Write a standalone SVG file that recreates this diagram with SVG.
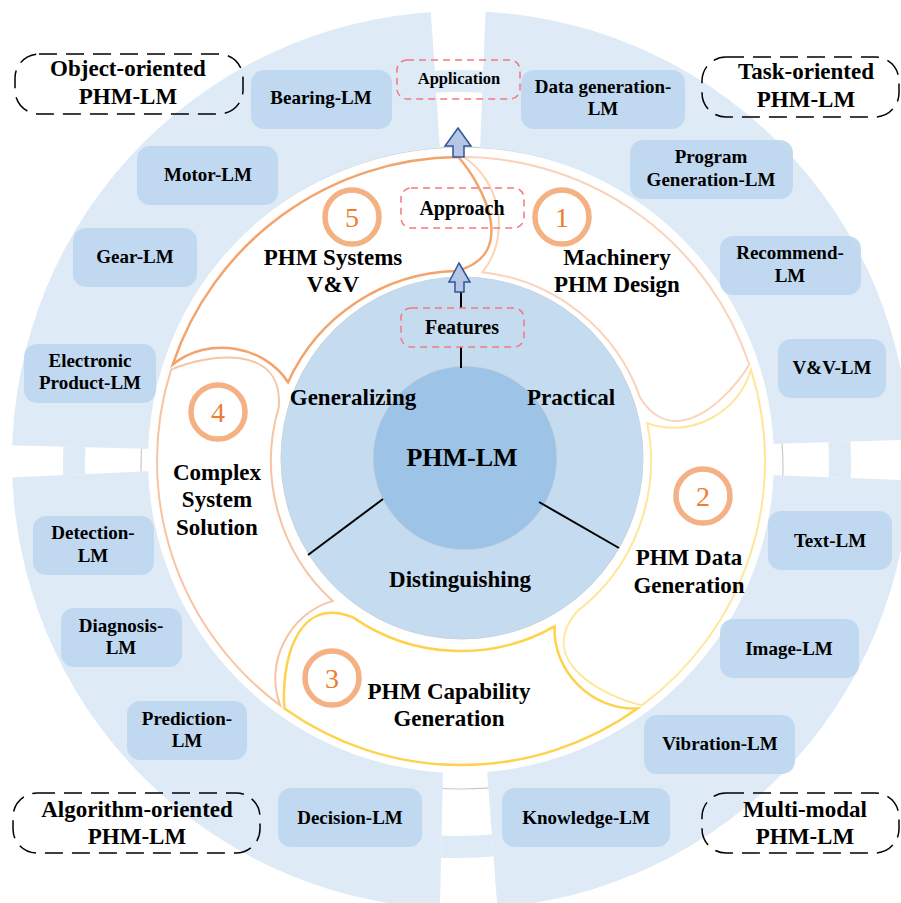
<svg xmlns="http://www.w3.org/2000/svg" width="901" height="903" viewBox="0 0 901 903">
<defs>
<style>
.t{font-family:"Liberation Serif","Times New Roman",serif;font-weight:bold;fill:#000;text-anchor:middle}
.lm{font-size:19px}
.big{font-size:23px}
.mid{font-size:20px}
.node rect{fill:#BDD7EE;fill-opacity:0.9}
.dash{fill:none;stroke:#000;stroke-width:1.5;stroke-dasharray:18 9}
.red{fill:none;stroke:#F4777F;stroke-width:1.5;stroke-dasharray:7 5}
.num{fill:#fff;stroke:#F4B183;stroke-width:5.5}
.numt{font-family:"Liberation Serif","Times New Roman",serif;font-size:28px;fill:#ED7D31;text-anchor:middle}
.seg{fill:none;stroke-linejoin:miter}
.barrow{fill:#B4C7E7;stroke:#2F5597;stroke-width:1.5}
.ln{stroke:#000;stroke-width:2}
</style>
<path id="segshape" class="seg" d="M2.65,-304 A304,304 0 0 1 288.29,-96.46 C268.72,-63.55 213.45,-8.15 179.13,-63.42 A190,190 0 0 0 21.5,-188.8 C49.5,-223.8 40.7,-279 2.65,-304 Z"/>
<mask id="gapmask">
<rect x="0" y="0" width="901" height="903" fill="#fff"/>
<polygon points="430,0 486,0 480,150 440,150" fill="#000"/>
<polygon points="443,770 487,770 497,903 440,903" fill="#000"/>
<polygon points="0,445 152,449 152,471 0,478" fill="#000"/>
<polygon points="768,444 901,440 901,480 768,475" fill="#000"/>
</mask>
<clipPath id="gapclip">
<polygon points="430,0 486,0 480,150 440,150"/>
<polygon points="443,770 487,770 497,903 440,903"/>
<polygon points="0,445 152,449 152,471 0,478"/>
<polygon points="768,444 901,440 901,480 768,475"/>
</clipPath>
</defs>
<rect x="0" y="0" width="901" height="903" fill="#fff"/>

<g id="outer-ring">
<circle cx="462" cy="468" r="321" fill="none" stroke="#C9C9C9" stroke-width="1.2"/>
<path d="M12,460 A449,449 0 1 0 910,460 A449,449 0 1 0 12,460 Z M148,460 A313,313 0 1 0 774,460 A313,313 0 1 0 148,460 Z" fill-rule="evenodd" fill="#DEEBF7" mask="url(#gapmask)"/>
<circle cx="457" cy="464" r="383" fill="none" stroke="#DEEBF7" stroke-width="22" clip-path="url(#gapclip)"/>
</g>

<g id="swirl" transform="translate(461,461)">
<use href="#segshape" stroke="#F9D3BA" stroke-width="2" transform="rotate(0)"/>
<use href="#segshape" stroke="#FFE699" stroke-width="2" transform="rotate(72)"/>
<use href="#segshape" stroke="#FFD24D" stroke-width="2.5" transform="rotate(144)"/>
<use href="#segshape" stroke="#F7C4A2" stroke-width="2" transform="rotate(216)"/>
<use href="#segshape" stroke="#F2A46C" stroke-width="2.5" transform="rotate(288)"/>
</g>

<g id="core">
<circle cx="462" cy="458" r="181" fill="#C5DCF0" stroke="#C8D3DE" stroke-width="1"/>
<circle cx="465" cy="458" r="92" fill="#9DC3E6" stroke="#C8D3DE" stroke-width="1"/>
</g>

<g id="connectors">
<line class="ln" x1="383" y1="499" x2="308" y2="555"/>
<line class="ln" x1="539" y1="502" x2="619" y2="548"/>
<line class="ln" x1="461" y1="292" x2="461" y2="308"/>
<line class="ln" x1="461" y1="347" x2="461" y2="368"/>
<polygon class="barrow" points="458,128 471,146 464,146 464,157 453,157 453,146 445,146"/>
<polygon class="barrow" points="459,263 470,282 464,282 464,292 455,292 455,282 449,282"/>
</g>

<g id="center-label">
<text class="t" x="462" y="466" font-size="26">PHM-LM</text>
<text class="t big" x="353" y="405">Generalizing</text>
<text class="t big" x="571" y="405">Practical</text>
<text class="t big" x="460" y="587">Distinguishing</text>
</g>

<g id="features">
<rect class="red" x="401" y="308" width="123" height="39" rx="10"/>
<text class="t mid" x="462" y="334">Features</text>
</g>
<g id="approach">
<rect class="red" x="401" y="188" width="123" height="40" rx="10"/>
<text class="t mid" x="462" y="215">Approach</text>
</g>
<g id="application">
<rect class="red" x="397" y="60" width="123" height="39" rx="10"/>
<text class="t" x="459" y="84" font-size="16.5">Application</text>
</g>

<g id="step1">
<circle class="num" cx="562" cy="217" r="27"/>
<text class="numt" x="562" y="227">1</text>
<text class="t big" x="617" y="265">Machinery</text>
<text class="t big" x="617" y="292">PHM Design</text>
</g>
<g id="step2">
<circle class="num" cx="703" cy="496" r="27"/>
<text class="numt" x="703" y="506">2</text>
<text class="t big" x="689" y="565">PHM Data</text>
<text class="t big" x="689" y="593">Generation</text>
</g>
<g id="step3">
<circle class="num" cx="332" cy="678" r="27"/>
<text class="numt" x="332" y="688">3</text>
<text class="t big" x="449" y="699">PHM Capability</text>
<text class="t big" x="449" y="726">Generation</text>
</g>
<g id="step4">
<circle class="num" cx="218" cy="412" r="27"/>
<text class="numt" x="218" y="422">4</text>
<text class="t big" x="217" y="480">Complex</text>
<text class="t big" x="217" y="507">System</text>
<text class="t big" x="217" y="535">Solution</text>
</g>
<g id="step5">
<circle class="num" cx="352" cy="217" r="27"/>
<text class="numt" x="352" y="227">5</text>
<text class="t big" x="333" y="265">PHM Systems</text>
<text class="t big" x="333" y="292">V&amp;V</text>
</g>

<g id="object-oriented">
<rect class="dash" x="15" y="54" width="228" height="60" rx="24"/>
<text class="t big" x="128" y="76">Object-oriented</text>
<text class="t big" x="128" y="104">PHM-LM</text>
</g>
<g id="task-oriented">
<rect class="dash" x="702" y="57" width="197" height="60" rx="24"/>
<text class="t big" x="806" y="79">Task-oriented</text>
<text class="t big" x="806" y="107">PHM-LM</text>
</g>
<g id="algorithm-oriented">
<rect class="dash" x="13" y="793" width="247" height="60" rx="24"/>
<text class="t big" x="137" y="817">Algorithm-oriented</text>
<text class="t big" x="137" y="844">PHM-LM</text>
</g>
<g id="multi-modal">
<rect class="dash" x="702" y="793" width="197" height="60" rx="24"/>
<text class="t big" x="805" y="817">Multi-modal</text>
<text class="t big" x="805" y="844">PHM-LM</text>
</g>

<g id="bearing-lm" class="node"><rect x="251" y="70" width="141" height="59" rx="13"/><text class="t lm" x="321" y="104">Bearing-LM</text></g>
<g id="motor-lm" class="node"><rect x="137" y="146" width="141" height="59" rx="13"/><text class="t lm" x="208" y="181">Motor-LM</text></g>
<g id="gear-lm" class="node"><rect x="73" y="228" width="124" height="59" rx="13"/><text class="t lm" x="135" y="263">Gear-LM</text></g>
<g id="electronic-lm" class="node"><rect x="24" y="344" width="132" height="59" rx="13"/><text class="t lm" x="90" y="367">Electronic</text><text class="t lm" x="90" y="389">Product-LM</text></g>
<g id="detection-lm" class="node"><rect x="33" y="516" width="121" height="59" rx="13"/><text class="t lm" x="93" y="539">Detection-</text><text class="t lm" x="93" y="562">LM</text></g>
<g id="diagnosis-lm" class="node"><rect x="61" y="608" width="121" height="59" rx="13"/><text class="t lm" x="121" y="632">Diagnosis-</text><text class="t lm" x="121" y="654">LM</text></g>
<g id="prediction-lm" class="node"><rect x="127" y="701" width="120" height="59" rx="13"/><text class="t lm" x="187" y="725">Prediction-</text><text class="t lm" x="187" y="747">LM</text></g>
<g id="decision-lm" class="node"><rect x="278" y="788" width="144" height="59" rx="13"/><text class="t lm" x="350" y="824">Decision-LM</text></g>
<g id="knowledge-lm" class="node"><rect x="502" y="788" width="168" height="59" rx="13"/><text class="t lm" x="586" y="824">Knowledge-LM</text></g>
<g id="vibration-lm" class="node"><rect x="644" y="715" width="151" height="59" rx="13"/><text class="t lm" x="720" y="750">Vibration-LM</text></g>
<g id="image-lm" class="node"><rect x="720" y="619" width="139" height="59" rx="13"/><text class="t lm" x="789" y="655">Image-LM</text></g>
<g id="text-lm" class="node"><rect x="768" y="511" width="124" height="59" rx="13"/><text class="t lm" x="830" y="547">Text-LM</text></g>
<g id="vv-lm" class="node"><rect x="778" y="339" width="108" height="59" rx="13"/><text class="t lm" x="832" y="374">V&amp;V-LM</text></g>
<g id="recommend-lm" class="node"><rect x="720" y="236" width="141" height="59" rx="13"/><text class="t lm" x="790" y="259">Recommend-</text><text class="t lm" x="790" y="282">LM</text></g>
<g id="program-lm" class="node"><rect x="630" y="140" width="163" height="59" rx="13"/><text class="t lm" x="711" y="163">Program</text><text class="t lm" x="711" y="186">Generation-LM</text></g>
<g id="datagen-lm" class="node"><rect x="521" y="70" width="164" height="59" rx="13"/><text class="t lm" x="603" y="93">Data generation-</text><text class="t lm" x="603" y="115">LM</text></g>
</svg>
